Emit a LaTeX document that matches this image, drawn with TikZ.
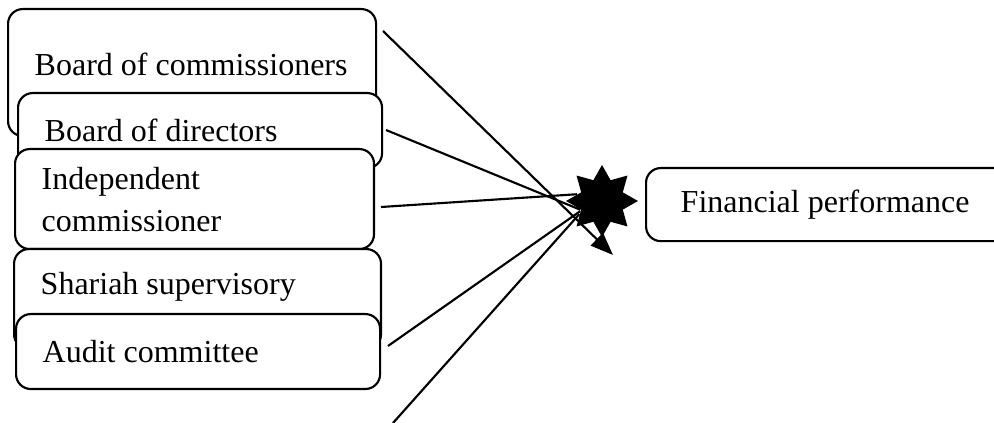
\documentclass[tikz,border=0pt]{standalone}
\usepackage{fontspec}
\setmainfont{Liberation Serif}
\usetikzlibrary{arrows.meta}
\usetikzlibrary{shapes.geometric}

\begin{document}
\begin{tikzpicture}
      [
        x=0.375pt, y=-0.375pt,
        factor/.style = {draw, fill=white, rounded corners=5.5pt, line width=0.8pt,
            anchor=north west, inner xsep=10pt, align=flush left,
            font=\fontsize{12}{15.75}\selectfont},
        link/.style = {line width=0.8pt}
      ]

      \useasboundingbox (0,0) rectangle (994,423);

      % independent variables
      \node[factor, minimum width=138pt, minimum height=47.6pt, text width=118pt, text depth=6pt] (boc) at (7,8) {\mbox{Board of commissioners}};
      \node[factor, minimum width=136.5pt, minimum height=28.1pt, text width=116.5pt] (bod) at (17,92) {\mbox{Board of directors}};
      \node[factor, minimum width=134.6pt, minimum height=37.5pt, text width=114.6pt] (ic) at (14,148) {Independent\\commissioner};
      \node[factor, minimum width=137.6pt, minimum height=37.5pt, text width=117.6pt, text depth=12pt] (ssb) at (13,248) {\mbox{Shariah supervisory}};
      \node[factor, minimum width=136.5pt, minimum height=28.1pt, text width=116.5pt] (ac) at (15,313) {\mbox{Audit committee}};

      % dependent variable
      \node[factor, minimum width=150pt, minimum height=27.4pt, text width=124pt, inner xsep=13pt] (fp) at (645,167) {\mbox{Financial performance}};

      \node[star, star points=8, star point ratio=1.6, minimum size=27pt, inner sep=0pt, fill=black] (hub) at (602,201) {};

      \coordinate (s1) at (383,31);
      \coordinate (s2) at (386,130);
      \coordinate (s3) at (381,207);
      \coordinate (s4) at (388,346);
      \coordinate (s5) at (393,423);
      \coordinate (tip) at (613,255);

      \draw[link, -{Triangle[length=8.5pt,width=6.5pt]}] (s1) -- (tip);
      \draw[link] (s2) -- (hub.202);
      \draw[link] (s3) -- (hub.165);
      \draw[link] (s4) -- (hub.205);
      \draw[link] (s5) -- (hub.210);

    \end{tikzpicture}
\end{document}
